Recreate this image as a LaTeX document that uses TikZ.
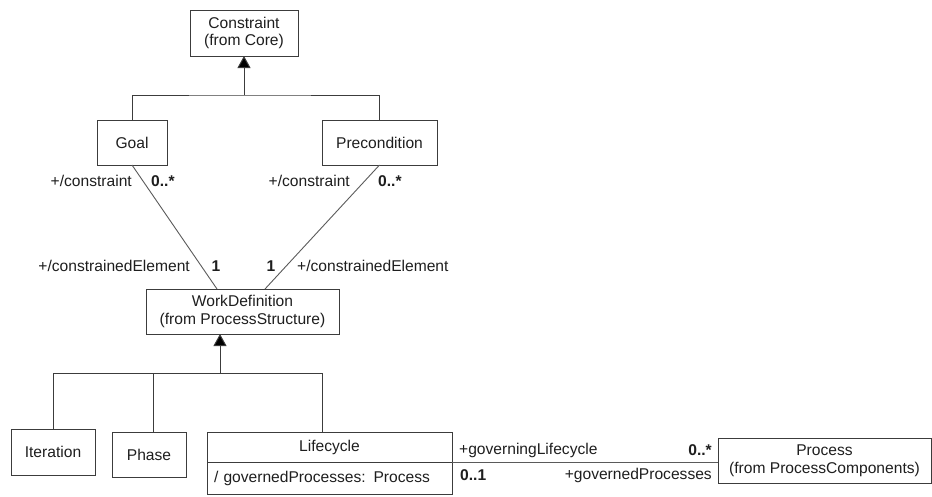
\documentclass[tikz,border=0pt]{standalone}
\usepackage{fontspec}
\setmainfont{Liberation Sans}
\usetikzlibrary{arrows.meta,calc}
\definecolor{ink}{HTML}{1E1E1E}
\definecolor{edge}{HTML}{3C3C3C}
\definecolor{assocline}{HTML}{5A5A5A}

\begin{document}
\begin{tikzpicture}[x=1pt,y=-1pt,
  every node/.style={font=\fontsize{15.6}{17.5}\selectfont, text=ink, inner sep=0pt},
  cls/.style={draw=edge, line width=1pt, outer sep=0pt, align=center},
  conn/.style={draw=edge, line width=1pt},
  gen/.style={conn, -{Triangle[width=13pt,length=12pt,fill=black]}},
  assoc/.style={draw=assocline, line width=0.9pt},
  role/.style={},
  mult/.style={font=\fontsize{15.6}{17.5}\selectfont\bfseries},
]
\useasboundingbox (0,0) rectangle (932,496);

% classes
\node[cls, minimum width=108pt, minimum height=46pt] (constraint) at (244,33) {Constraint\\(from Core)};
\node[cls, minimum width=70pt, minimum height=45pt] (goal) at (132,142.5) {Goal};
\node[cls, minimum width=115pt, minimum height=45pt] (pre) at (379.5,142.5) {Precondition};
\node[cls, minimum width=193pt, minimum height=45pt] (wd) at (242.5,311.5) {WorkDefinition\\(from ProcessStructure)};
\node[cls, minimum width=84pt, minimum height=46pt] (iter) at (53,452) {Iteration};
\node[cls, minimum width=74pt, minimum height=45pt] (phase) at (149,454.5) {Phase};
\node[cls, minimum width=245pt, minimum height=30pt] (lc) at (329.5,447) {Lifecycle};
\node[cls, text width=231pt, inner xsep=7pt, minimum height=32pt, align=left, anchor=north] (lcattr) at (lc.south) {/ governedProcesses: Process};
\node[cls, minimum width=213pt, minimum height=45pt] (proc) at (824.5,460.5) {Process\\(from ProcessComponents)};

% generalization: Goal, Precondition -> Constraint
\coordinate (j1) at (244,95);
\draw[gen] (j1) -- (constraint.south);
\draw[conn] (goal.north) |- (j1) -| (pre.north);

% generalization: Iteration, Phase, Lifecycle -> WorkDefinition
\coordinate (j2) at (220,373);
\coordinate (jp) at (153,373);
\coordinate (jl) at (322,373);
\draw[gen] (j2) -- (wd.south -| j2);
\draw[conn] (iter.north) |- (jl) -- (jl |- lc.north);
\draw[conn] (jp) -- (jp |- phase.north);

% associations with WorkDefinition
\draw[assoc] (goal.south) -- ($(wd.north)+(-25.5,0)$);
\draw[assoc] (pre.south) -- ($(wd.north)+(22.5,0)$);

\node[role, anchor=east] (gc) at (132,181) {+/constraint};
\node[mult, anchor=west] (gm) at (151,181) {0..*};
\node[role, anchor=east] (pc) at (350,181) {+/constraint};
\node[mult, anchor=west] (pm) at (378,181) {0..*};
\node[role, anchor=east] (ge) at (190,266) {+/constrainedElement};
\node[mult] (g1) at (216,266) {1};
\node[mult] (p1) at (271,266) {1};
\node[role, anchor=west] (pe) at (297,266) {+/constrainedElement};

% association Lifecycle -- Process
\draw[assoc] (lc.south east) -- (lc.south east -| proc.west);
\node[role, anchor=west] (gl) at (459,450) {+governingLifecycle};
\node[mult, anchor=east] (lm) at (712,450) {0..*};
\node[mult, anchor=west] (l1) at (460,475) {0..1};
\node[role, anchor=east] (gp) at (712,475) {+governedProcesses};
\end{tikzpicture}
\end{document}
